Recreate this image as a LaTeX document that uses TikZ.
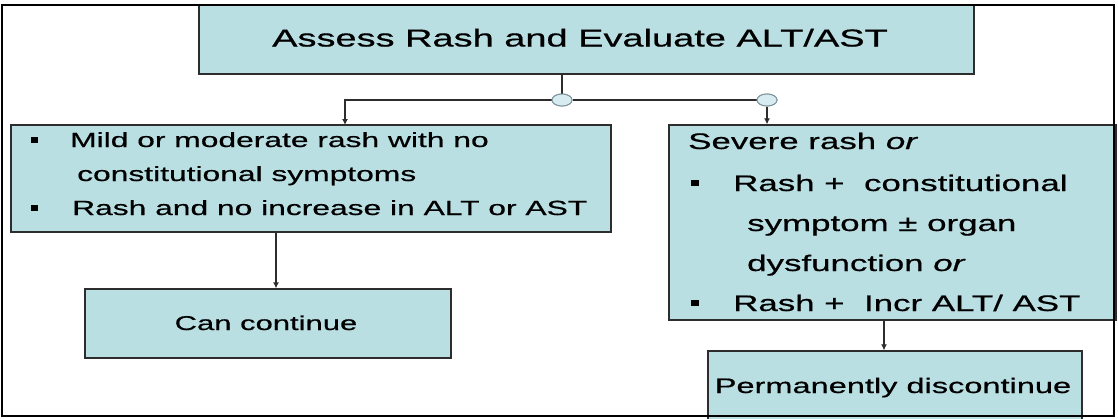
\documentclass[tikz,border=0pt]{standalone}
\usepackage{fontspec}
\setmainfont{Liberation Sans}
\newfontfamily\wf[FakeStretch=1.55,FakeBold=0.6]{Liberation Sans}
\usetikzlibrary{shapes.geometric,arrows.meta}
\definecolor{boxblue}{RGB}{185,223,227}
\definecolor{edgegray}{RGB}{45,45,45}
\definecolor{knobfill}{RGB}{214,236,241}
\definecolor{knobedge}{RGB}{130,150,158}
\begin{document}
\begin{tikzpicture}[x=1pt,y=-1pt,
  box/.style={draw=edgegray, line width=1.3pt, fill=boxblue, inner sep=0pt},
  conn/.style={draw=edgegray, line width=1.2pt},
  arr/.style={conn, -{Latex[length=6pt,width=6pt]}},
  knob/.style={ellipse, draw=knobedge, line width=1pt, fill=knobfill, minimum width=20pt, minimum height=12pt, inner sep=0pt},
  bul/.style={fill=black, inner sep=0pt, minimum width=7pt, minimum height=6pt},
  tl/.style={inner sep=0pt, anchor=base west, font=\wf\fontsize{20.5}{20}\selectfont},
  tr/.style={inner sep=0pt, anchor=base west, font=\wf\fontsize{22.5}{22}\selectfont}]
\clip (0,0) rectangle (1118,418);
\fill[white] (0,0) rectangle (1118,418);
% boxes
\node[box, minimum width=775pt, minimum height=69pt] (top) at (586.5,39.5) {};
\node[box, minimum width=600pt, minimum height=107pt] (lb) at (311,178.5) {};
\node[box, minimum width=447pt, minimum height=195pt] (rb) at (892.5,222.5) {};
\node[box, minimum width=366pt, minimum height=69pt] (can) at (268,323.5) {};
\node[box, minimum width=374pt, minimum height=99pt] (perm) at (895,400.5) {};
% texts
\node[inner sep=0pt, anchor=base, font=\wf\fontsize{24.5}{24}\selectfont] (ttop) at (580,46.5) {Assess Rash and Evaluate ALT/AST};
\node[bul] (b1) at (34,140) {};
\node[tl] (l1) at (70,147) {Mild or moderate rash with no};
\node[tl] (l2) at (77,181) {constitutional symptoms};
\node[bul] (b2) at (34,208) {};
\node[tl] (l3) at (72,215) {Rash and no increase in ALT or AST};
\node[tr] (r1) at (688,149) {Severe rash \textit{or}};
\node[bul, minimum width=8pt] (b3) at (695,182.5) {};
\node[tr] (r2) at (733,191) {Rash +\ \ constitutional};
\node[tr] (r3) at (747,231) {symptom ± organ};
\node[tr] (r4) at (747,271) {dysfunction \textit{or}};
\node[bul, minimum width=8pt] (b4) at (695,302.5) {};
\node[tr] (r5) at (733,311) {Rash +\ \ Incr ALT/ AST};
\node[inner sep=0pt, anchor=base, font=\wf\fontsize{20}{20}\selectfont] (tcan) at (266,330) {Can continue};
\node[inner sep=0pt, anchor=base, font=\wf\fontsize{21}{20}\selectfont] (tperm) at (893,393) {Permanently discontinue};
% connectors
\node[knob] (c1) at (562,100) {};
\node[knob] (c2) at (767,100) {};
\coordinate (la) at (345,125);
\coordinate (ca) at (276,0);
\coordinate (pa) at (884,0);
\draw[conn] (top.south -| c1) -- (c1.north);
\draw[arr] (c1.west) -| (la);
\draw[conn] (c1.east) -- (c2.west);
\draw[arr] (c2.south) -- (rb.north -| c2);
\draw[arr] (lb.south -| ca) -- (can.north -| ca);
\draw[arr] (rb.south -| pa) -- (perm.north -| pa);
\node[knob] at (c1) {};
\node[knob] at (c2) {};
% frame
\draw[line width=1.6pt, black] (2,5) rectangle (1114,416);
\end{tikzpicture}
\end{document}
